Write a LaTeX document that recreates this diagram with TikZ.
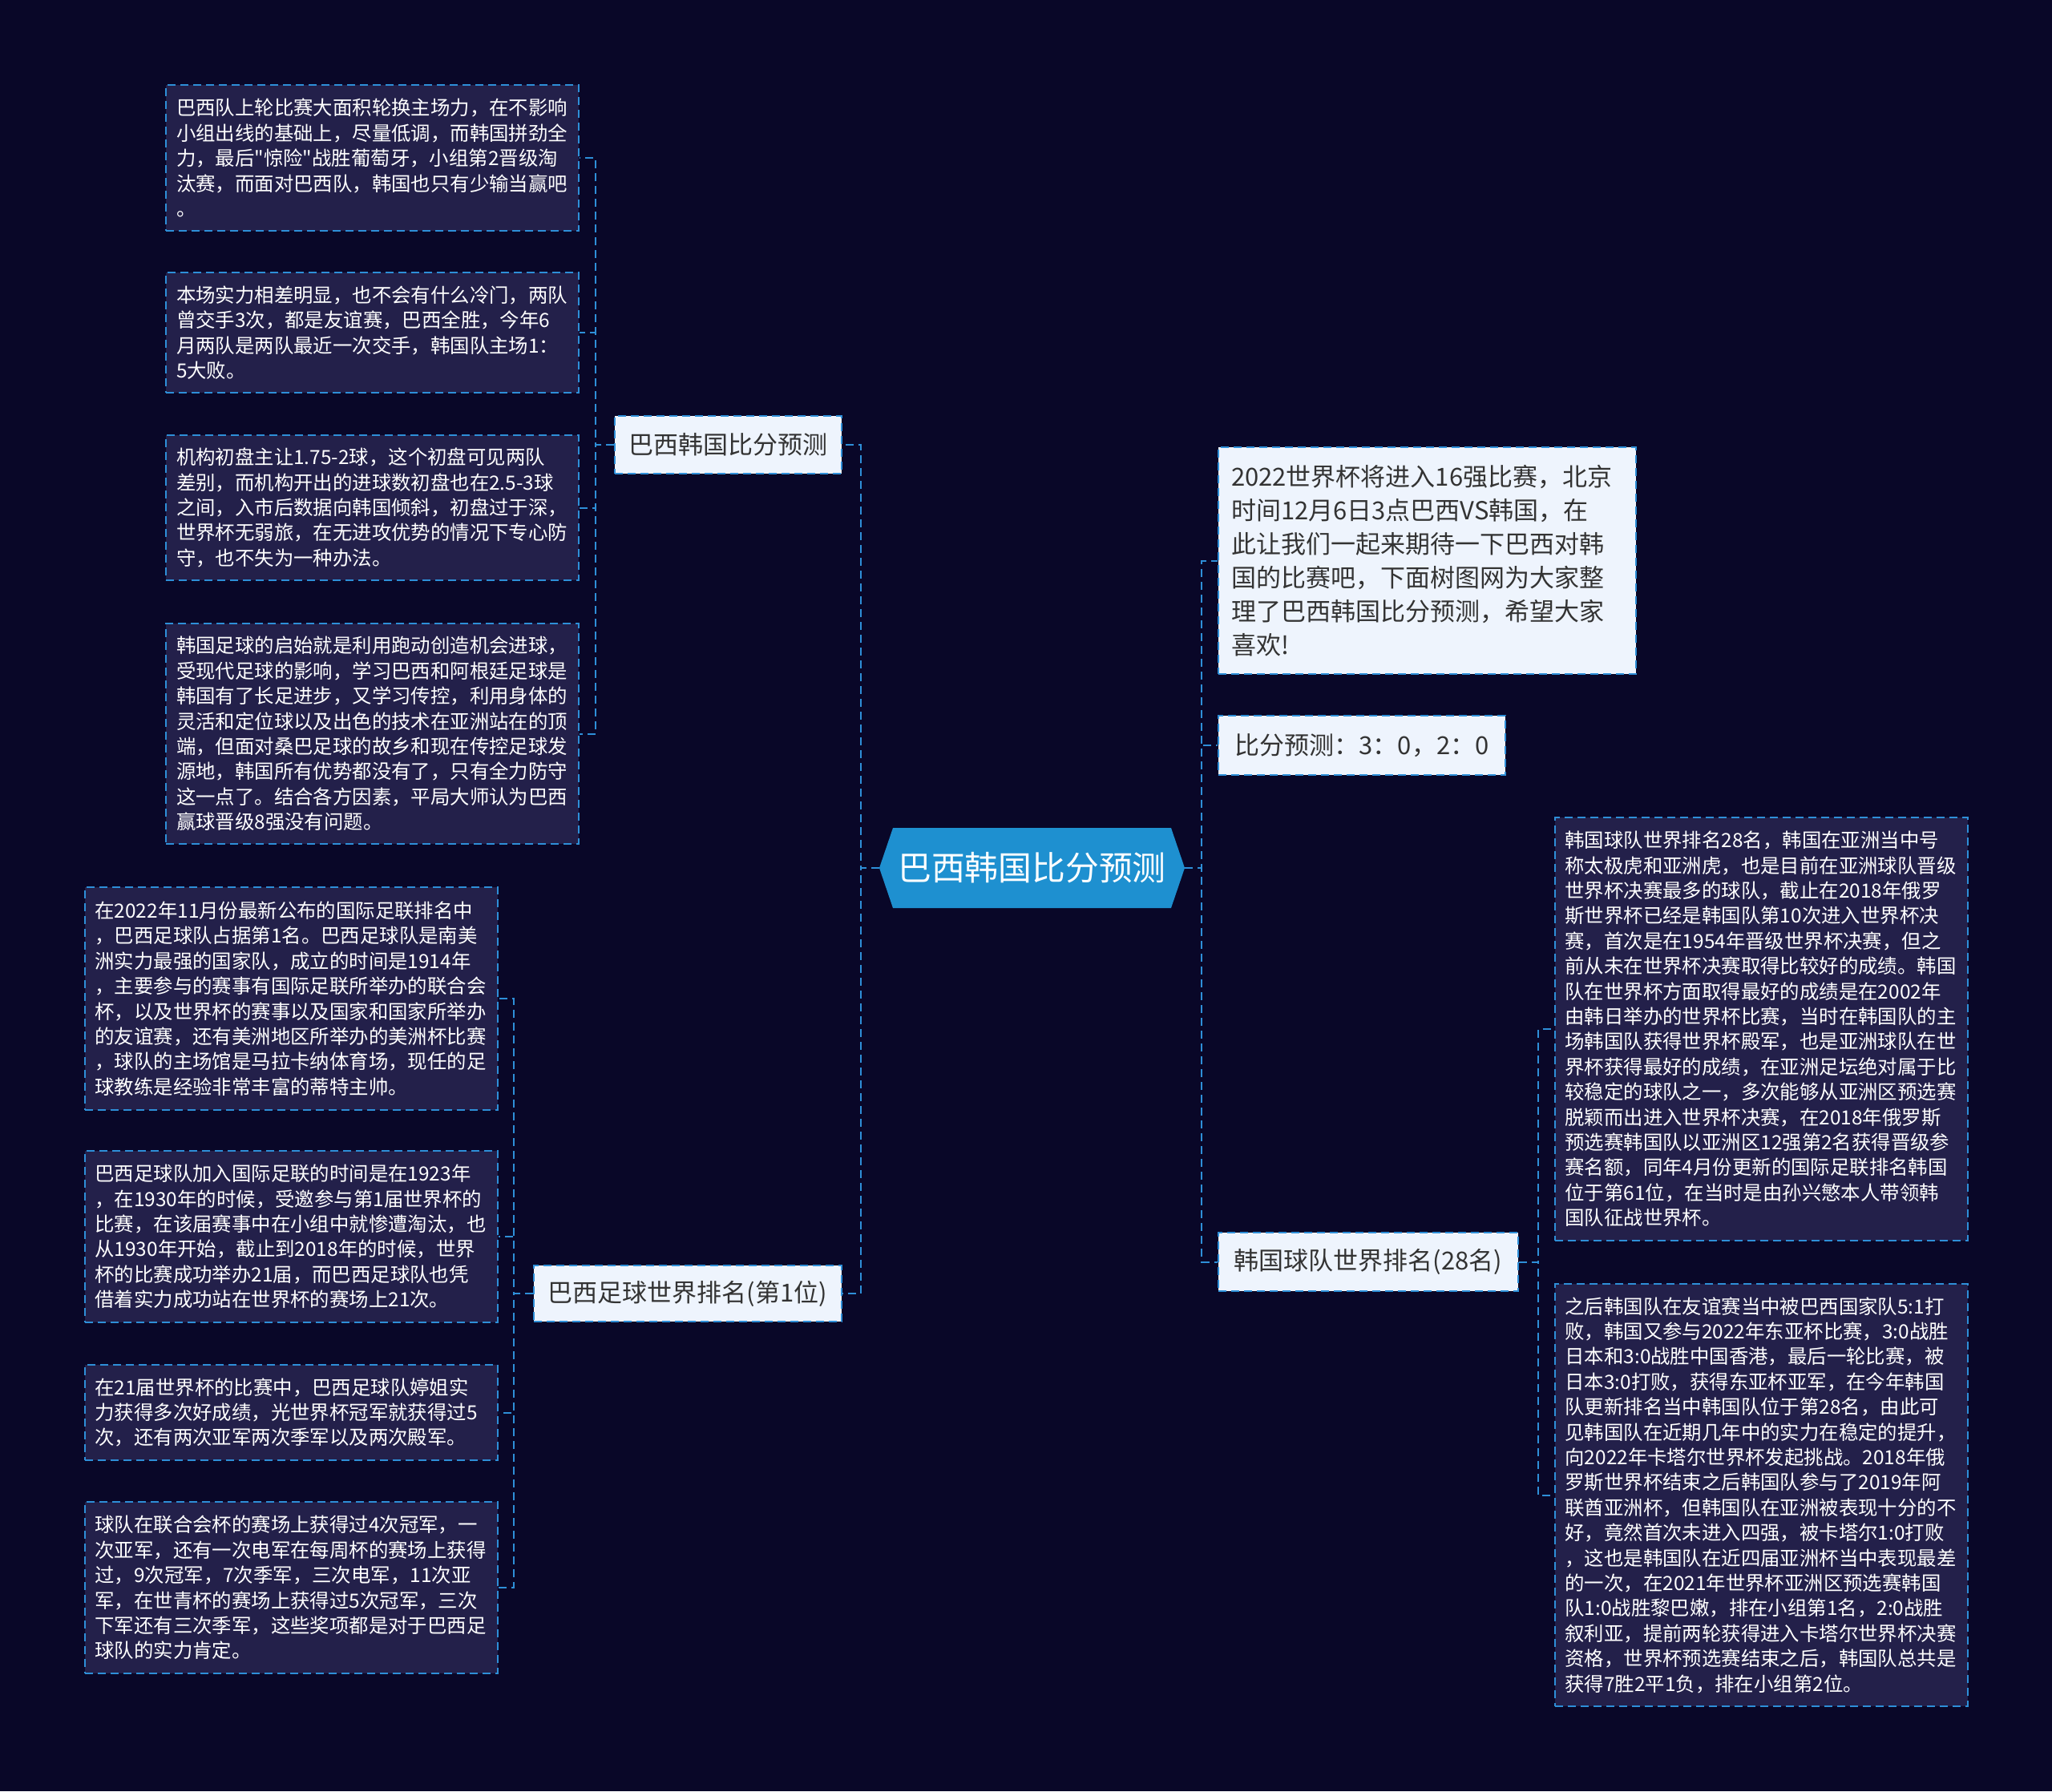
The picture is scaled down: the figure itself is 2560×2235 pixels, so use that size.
\documentclass[tikz,border=0pt]{standalone}
\usepackage{fontspec}
\setmainfont{Noto Sans CJK SC}[Ligatures=TeXOff]
\definecolor{bgnavy}{RGB}{9,7,40}
\definecolor{boxfill}{RGB}{35,32,74}
\definecolor{lineblue}{RGB}{46,143,216}
\definecolor{rootblue}{RGB}{30,144,208}
\definecolor{topicfill}{RGB}{238,244,253}
\definecolor{textgray}{RGB}{51,51,51}
\tikzset{
  link/.style={
    draw=lineblue,
    line width=1pt,
    dash pattern=on 5pt off 3pt
  },
  detail/.style={
    link,
    fill=boxfill,
    text=white,
    font=\fontsize{12.2}{15.7}\selectfont,
    align=left,
    text width=244.5pt,
    inner xsep=6.5pt,
    inner ysep=0pt,
    minimum width=257.5pt
  },
  topic/.style={
    link,
    fill=topicfill,
    text=textgray,
    font=\fontsize{15.5}{21}\selectfont,
    inner sep=0pt
  },
  rootnode/.style={
    text=white,
    font=\fontsize{20.9}{25}\selectfont,
    minimum width=190.5pt,
    minimum height=50pt,
    inner sep=0pt
  },
}

\begin{document}
\begin{tikzpicture}[x=0.5pt,y=-0.5pt]
  \fill[bgnavy] (0,0) rectangle (2560,2235);
  \useasboundingbox (0,0) rectangle (2560,2235);
  % root
  \fill[rootblue] (1097,1083) -- (1114,1033) -- (1461,1033) -- (1478,1083) -- (1461,1133) -- (1114,1133) -- cycle;
  \node[rootnode] (root) at (1287.5,1083) {巴西韩国比分预测};
  % left side
  \node[topic, minimum width=141.5pt, minimum height=36pt] (pred) at (908.5,555) {巴西韩国比分预测};
  \node[topic, minimum width=192pt, minimum height=35pt] (rank) at (858,1614) {巴西足球世界排名(第1位)};
  \node[detail, minimum height=91pt] (pred1) at (464.5,197) {巴西队上轮比赛大面积轮换主场力，在不影响\\小组出线的基础上，尽量低调，而韩国拼劲全\\力，最后"惊险"战胜葡萄牙，小组第2晋级淘\\汰赛，而面对巴西队，韩国也只有少输当赢吧\\。};
  \node[detail, minimum height=75pt] (pred2) at (464.5,415) {本场实力相差明显，也不会有什么冷门，两队\\曾交手3次，都是友谊赛，巴西全胜，今年6\\月两队是两队最近一次交手，韩国队主场1：\\5大败。};
  \node[detail, minimum height=90.5pt] (pred3) at (464.5,633.5) {机构初盘主让1.75-2球，这个初盘可见两队\\差别，而机构开出的进球数初盘也在2.5-3球\\之间，入市后数据向韩国倾斜，初盘过于深，\\世界杯无弱旅，在无进攻优势的情况下专心防\\守，也不失为一种办法。};
  \node[detail, minimum height=137.5pt] (pred4) at (464.5,915.5) {韩国足球的启始就是利用跑动创造机会进球，\\受现代足球的影响，学习巴西和阿根廷足球是\\韩国有了长足进步，又学习传控，利用身体的\\灵活和定位球以及出色的技术在亚洲站在的顶\\端，但面对桑巴足球的故乡和现在传控足球发\\源地，韩国所有优势都没有了，只有全力防守\\这一点了。结合各方因素，平局大师认为巴西\\赢球晋级8强没有问题。};
  \node[detail, minimum height=139pt] (rank1) at (363,1246) {在2022年11月份最新公布的国际足联排名中\\，巴西足球队占据第1名。巴西足球队是南美\\洲实力最强的国家队，成立的时间是1914年\\，主要参与的赛事有国际足联所举办的联合会\\杯，以及世界杯的赛事以及国家和国家所举办\\的友谊赛，还有美洲地区所举办的美洲杯比赛\\，球队的主场馆是马拉卡纳体育场，现任的足\\球教练是经验非常丰富的蒂特主帅。};
  \node[detail, minimum height=107pt] (rank2) at (363,1543) {巴西足球队加入国际足联的时间是在1923年\\，在1930年的时候，受邀参与第1届世界杯的\\比赛，在该届赛事中在小组中就惨遭淘汰，也\\从1930年开始，截止到2018年的时候，世界\\杯的比赛成功举办21届，而巴西足球队也凭\\借着实力成功站在世界杯的赛场上21次。};
  \node[detail, minimum height=59.5pt] (rank3) at (363,1762.5) {在21届世界杯的比赛中，巴西足球队婷姐实\\力获得多次好成绩，光世界杯冠军就获得过5\\次，还有两次亚军两次季军以及两次殿军。};
  \node[detail, minimum height=107pt] (rank4) at (363,1981) {球队在联合会杯的赛场上获得过4次冠军，一\\次亚军，还有一次电军在每周杯的赛场上获得\\过，9次冠军，7次季军，三次电军，11次亚\\军，在世青杯的赛场上获得过5次冠军，三次\\下军还有三次季军，这些奖项都是对于巴西足\\球队的实力肯定。};
  % right side
  \node[topic, align=left, text width=244.5pt, inner xsep=8pt, minimum height=141.5pt] (intro) at (1780.5,699.5) {2022世界杯将进入16强比赛，北京\\时间12月6日3点巴西VS韩国，在\\此让我们一起来期待一下巴西对韩\\国的比赛吧，下面树图网为大家整\\理了巴西韩国比分预测，希望大家\\喜欢!};
  \node[topic, minimum width=179pt, minimum height=37pt] (score) at (1699,930) {比分预测：3：0，2：0};
  \node[topic, minimum width=187pt, minimum height=36.5pt] (korea) at (1707,1574.5) {韩国球队世界排名(28名)};
  \node[detail, minimum height=264pt] (korea1) at (2197,1284) {韩国球队世界排名28名，韩国在亚洲当中号\\称太极虎和亚洲虎，也是目前在亚洲球队晋级\\世界杯决赛最多的球队，截止在2018年俄罗\\斯世界杯已经是韩国队第10次进入世界杯决\\赛，首次是在1954年晋级世界杯决赛，但之\\前从未在世界杯决赛取得比较好的成绩。韩国\\队在世界杯方面取得最好的成绩是在2002年\\由韩日举办的世界杯比赛，当时在韩国队的主\\场韩国队获得世界杯殿军，也是亚洲球队在世\\界杯获得最好的成绩，在亚洲足坛绝对属于比\\较稳定的球队之一，多次能够从亚洲区预选赛\\脱颖而出进入世界杯决赛，在2018年俄罗斯\\预选赛韩国队以亚洲区12强第2名获得晋级参\\赛名额，同年4月份更新的国际足联排名韩国\\位于第61位，在当时是由孙兴慜本人带领韩\\国队征战世界杯。};
  \node[detail, minimum height=263.5pt] (korea2) at (2197,1865.5) {之后韩国队在友谊赛当中被巴西国家队5:1打\\败，韩国又参与2022年东亚杯比赛，3:0战胜\\日本和3:0战胜中国香港，最后一轮比赛，被\\日本3:0打败，获得东亚杯亚军，在今年韩国\\队更新排名当中韩国队位于第28名，由此可\\见韩国队在近期几年中的实力在稳定的提升，\\向2022年卡塔尔世界杯发起挑战。2018年俄\\罗斯世界杯结束之后韩国队参与了2019年阿\\联酋亚洲杯，但韩国队在亚洲被表现十分的不\\好，竟然首次未进入四强，被卡塔尔1:0打败\\，这也是韩国队在近四届亚洲杯当中表现最差\\的一次，在2021年世界杯亚洲区预选赛韩国\\队1:0战胜黎巴嫩，排在小组第1名，2:0战胜\\叙利亚，提前两轮获得进入卡塔尔世界杯决赛\\资格，世界杯预选赛结束之后，韩国队总共是\\获得7胜2平1负，排在小组第2位。};
  % connectors
  \foreach \n in {pred,rank}
    \draw[link] (root.west) -- ++(-23,0) |- (\n.east);
  \foreach \n in {intro,score,korea}
    \draw[link] (root.east) -- ++(21,0) |- (\n.west);
  \foreach \n in {pred1,pred2,pred3,pred4}
    \draw[link] (pred.west) -- ++(-23,0) |- (\n.east);
  \foreach \n in {rank1,rank2,rank3,rank4}
    \draw[link] (rank.west) -- ++(-24,0) |- (\n.east);
  \foreach \n in {korea1,korea2}
    \draw[link] (korea.east) -- ++(24,0) |- (\n.west);
\end{tikzpicture}
\end{document}
